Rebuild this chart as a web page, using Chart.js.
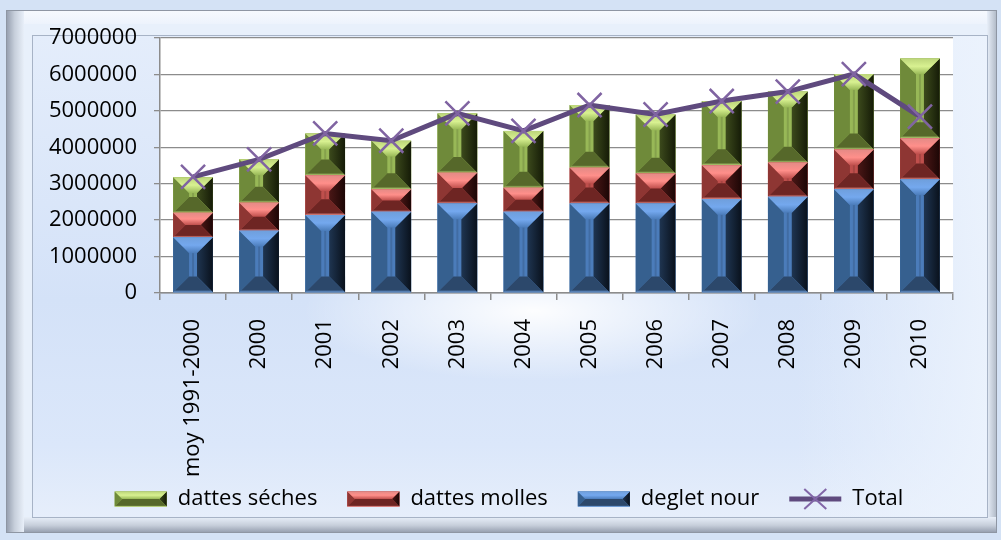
<!DOCTYPE html>
<html><head><meta charset="utf-8">
<script src="https://cdn.jsdelivr.net/npm/chart.js@4.4.1/dist/chart.umd.min.js"></script>
<style>
html,body{margin:0;padding:0;width:1001px;height:540px;overflow:hidden;background:#d4e2f5;}
#frame{position:absolute;left:6px;top:10px;width:991px;height:523px;box-sizing:border-box;
 border:1px solid #8e96a3;
 background:
  linear-gradient(to right,#98a1b1,#c7cfdb 45%,#e8eff9) left top/17px 100% no-repeat,
  linear-gradient(to top,#98a1b1,#c7cfdb 45%,#e8eff9) left bottom/100% 15px no-repeat,
  linear-gradient(to left,#b3bcc9,#e8eff9) right top/9px 100% no-repeat,
  linear-gradient(#f6f9fe,#edf3fc) left top/100% 13px no-repeat,
  #e8f0fb;}
#panel{position:absolute;left:32px;top:35px;width:956px;height:483px;box-sizing:border-box;
 border:1px solid #a7b3c6;
 background:
  radial-gradient(ellipse 230px 70px at 500px 275px,rgba(255,255,255,0.95),rgba(255,255,255,0) 100%),
  linear-gradient(to right,rgba(232,240,252,0.0) 0%,rgba(232,240,252,0) 80%,rgba(236,243,253,0.9) 100%),
  linear-gradient(#e4edfb 0%,#d4e2f8 55%,#dbe7fa 85%,#e6eefb 100%);}
canvas{position:absolute;left:0;top:0;z-index:2;}
</style></head>
<body>
<div id="frame"></div>
<div id="panel"></div>
<canvas id="c" width="1001" height="540"></canvas>
<script>
const categories = ['moy 1991-2000','2000','2001','2002','2003','2004','2005','2006','2007','2008','2009','2010'];
const degletNour   = [1530000,1710000,2140000,2230000,2460000,2230000,2460000,2460000,2580000,2640000,2850000,3120000];
const dattesMolles = [670000,770000,1090000,620000,840000,660000,980000,820000,930000,940000,1090000,1130000];
const dattesSeches = [980000,1190000,1150000,1330000,1630000,1560000,1720000,1620000,1760000,1950000,2070000,2190000];
const total        = [3190000,3670000,4380000,4180000,4930000,4450000,5160000,4900000,5270000,5530000,6010000,4840000];
const yTicks = [0,1000000,2000000,3000000,4000000,5000000,6000000,7000000];
const seriesNames = ['deglet nour','dattes molles','dattes séches','Total'];

const bevels = [
  {center:'#4b7cba', top:'#74a8ee', left:'#36608f', right:['#1f3551','#09111c'], bottom:'#2c486b', edge:'#6f9fdc'},
  {center:'#bf4f4c', top:'#ff8f8a', left:'#8e3633', right:['#4a1716','#1c0605'], bottom:'#6e2523', edge:'#e48a86'},
  {center:'#98b857', top:'#d8f191', left:'#6f8a3a', right:['#3c4a1c','#151b07'], bottom:'#56682a', edge:'#bcd57a'}
];

function drawBevel(ctx, x0, x1, top, bot, c){
  const w = x1 - x0, h = bot - top;
  if (w <= 0 || h <= 0) return;
  const b = Math.min(w * 0.4, h / 2, 16);
  ctx.save();
  ctx.fillStyle = c.center; ctx.fillRect(x0, top, w, h);
  const poly = (pts, fill) => { ctx.beginPath(); ctx.moveTo(pts[0][0], pts[0][1]); for (let i=1;i<pts.length;i++) ctx.lineTo(pts[i][0], pts[i][1]); ctx.closePath(); ctx.fillStyle = fill; ctx.fill(); };
  poly([[x0,top],[x0+b,top+b],[x0+b,bot-b],[x0,bot]], c.left);
  const g = ctx.createLinearGradient(x1-b,0,x1,0); g.addColorStop(0,c.right[0]); g.addColorStop(1,c.right[1]);
  poly([[x1,top],[x1-b,top+b],[x1-b,bot-b],[x1,bot]], g);
  const gt = ctx.createLinearGradient(0,top,0,top+b); gt.addColorStop(0,c.edge); gt.addColorStop(0.5,c.top); gt.addColorStop(1,c.center);
  poly([[x0,top],[x1,top],[x1-b,top+b],[x0+b,top+b]], gt);
  const gb = ctx.createLinearGradient(0,bot-b,0,bot); gb.addColorStop(0,c.bottom); gb.addColorStop(0.85,c.bottom); gb.addColorStop(1,c.edge);
  poly([[x0,bot],[x1,bot],[x1-b,bot-b],[x0+b,bot-b]], gb);
  if (h > 2*b + 2) { ctx.fillStyle = 'rgba(0,0,0,0.12)'; ctx.fillRect((x0+x1)/2 - 1, top+b, 2, h-2*b); }
  ctx.restore();
}

const bevelPlugin = {
  id: 'bevel',
  afterLayout(chart){
    const lg = chart.legend;
    if (lg) { lg.top -= 20; lg.bottom -= 20; lg.left = 65; }
  },
  beforeDraw(chart){
    const a = chart.chartArea, ctx = chart.ctx;
    ctx.save(); ctx.fillStyle = '#ffffff'; ctx.fillRect(a.left, a.top, a.right-a.left, a.bottom-a.top); ctx.restore();
  },
  afterDatasetDraw(chart, args){
    const meta = args.meta;
    if (meta.type !== 'bar') return;
    const c = bevels[meta.index];
    meta.data.forEach(el => {
      const x0 = el.x - el.width/2, x1 = el.x + el.width/2;
      drawBevel(chart.ctx, x0, x1, Math.min(el.y, el.base), Math.max(el.y, el.base), c);
    });
  },
  afterDraw(chart){
    const lg = chart.legend; if (!lg || !lg.legendHitBoxes) return;
    const ctx = chart.ctx;
    lg.legendItems.forEach((it, i) => {
      const hb = lg.legendHitBoxes[i];
      const cy = hb.top + hb.height/2;
      if (it.datasetIndex < 3) {
        drawBevel(ctx, hb.left, hb.left + 52, cy - 7.5, cy + 7.5, bevels[it.datasetIndex]);
      } else {
        const cx = hb.left + 26;
        ctx.save(); ctx.strokeStyle = '#8266a8'; ctx.lineWidth = 2;
        ctx.beginPath(); ctx.moveTo(cx-11, cy-10); ctx.lineTo(cx+11, cy+10); ctx.moveTo(cx+11, cy-10); ctx.lineTo(cx-11, cy+10); ctx.stroke();
        ctx.restore();
      }
    });
  }
};

Chart.defaults.font.family = "'Open Sans', sans-serif";
Chart.defaults.font.size = 22;
Chart.defaults.color = '#000000';

const legendRank = [2,1,0,3];

new Chart(document.getElementById('c'), {
  type: 'bar',
  data: {
    labels: categories,
    datasets: [
      {type:'bar', label: seriesNames[0], data: degletNour, backgroundColor:'#4f81bd', borderWidth:0, stack:'bars', order:1},
      {type:'bar', label: seriesNames[1], data: dattesMolles, backgroundColor:'#c0504d', borderWidth:0, stack:'bars', order:1},
      {type:'bar', label: seriesNames[2], data: dattesSeches, backgroundColor:'#9bbb59', borderWidth:0, stack:'bars', order:1},
      {type:'line', label: seriesNames[3], data: total, borderColor:'#5f4a7e', borderWidth:5, backgroundColor:'#5f4a7e',
       pointStyle:'crossRot', pointRadius:17, pointHoverRadius:17, pointBorderColor:'#8064a2', pointBorderWidth:2.5,
       tension:0, fill:false, stack:'total', order:0}
    ]
  },
  options: {
    responsive:false, animation:false, devicePixelRatio:1,
    categoryPercentage:1.0, barPercentage:0.6,
    layout:{padding:{left:20, right:48, top:38, bottom:0}},
    plugins:{
      tooltip:{enabled:false},
      legend:{
        position:'bottom',
        labels:{
          usePointStyle:true, pointStyleWidth:52, boxHeight:15, padding:30,
          font:{size:22},
          sort:(a,b)=>legendRank[a.datasetIndex]-legendRank[b.datasetIndex],
          generateLabels(chart){
            const items = Chart.defaults.plugins.legend.labels.generateLabels(chart);
            items.forEach(it => {
              const ds = chart.data.datasets[it.datasetIndex];
              if (ds.type === 'line') { it.pointStyle = 'line'; it.lineWidth = 5; it.strokeStyle = '#5f4a7e'; it.fillStyle = '#5f4a7e'; }
              else { it.pointStyle = 'rect'; it.lineWidth = 0; }
            });
            return items;
          }
        }
      }
    },
    scales:{
      x:{
        stacked:true, offset:true,
        grid:{display:true, drawOnChartArea:false, tickLength:7, color:'#8c8c8c', lineWidth:1.5, offset:true},
        border:{color:'#8c8c8c', width:1.5},
        ticks:{autoSkip:false, maxRotation:90, minRotation:90, padding:19, font:{size:22}},
        afterFit(s){ s.height = 185; }
      },
      y:{
        stacked:true, min:0, max:7000000,
        afterBuildTicks(s){ s.ticks = yTicks.map(v => ({value:v})); },
        grid:{color:'#8c8c8c', lineWidth:1.3, tickLength:6},
        border:{color:'#8c8c8c', width:1.5},
        ticks:{padding:17, font:{size:22}, callback:v => String(v)},
        afterFit(s){ s.width = 140; }
      }
    }
  },
  plugins:[bevelPlugin]
});
</script>
</body></html>
